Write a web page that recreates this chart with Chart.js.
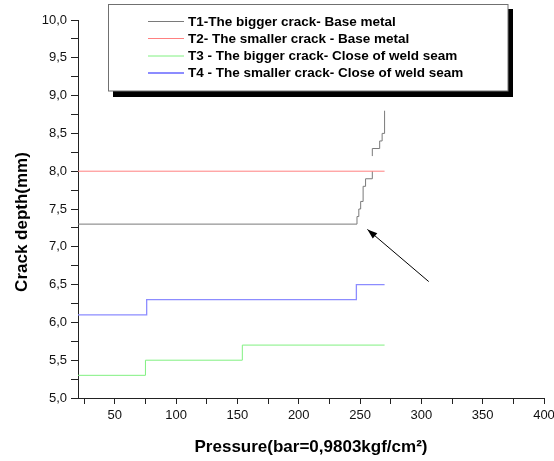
<!DOCTYPE html>
<html>
<head>
<meta charset="utf-8">
<script src="https://cdn.jsdelivr.net/npm/chart.js@4/dist/chart.umd.min.js"></script>
<style>
  html, body { margin: 0; padding: 0; background: #fff; }
  #wrap { width: 554px; height: 461px; }
</style>
</head>
<body>
<div id="wrap"><canvas id="crackChart" width="554" height="461"></canvas></div>
<script>
// Series data (pressure in bar, crack depth in mm)
const t1Pressure = [20, 247.5, 249, 250.5, 252.5, 254.5, 260, 260, 260, 260, 266, 268, 270];
const t1Depth    = [7.3, 7.4, 7.5, 7.6, 7.8, 7.9, 8.0, null, 8.2, 8.3, 8.4, 8.5, 8.8];
const t2Pressure = [20, 270];
const t2Depth    = [8.0, 8.0];
const t3Pressure = [20, 75, 154, 270];
const t3Depth    = [5.3, 5.5, 5.7, 5.7];
const t4Pressure = [20, 76, 247, 270];
const t4Depth    = [6.1, 6.3, 6.5, 6.5];

// Arrow pointing at T1 (tip first, then tail)
const arrowPressure = [256, 306];
const arrowDepth    = [7.23, 6.54];

const seriesLabels = [
    'T1-The bigger crack- Base metal',
    'T2- The smaller crack - Base metal',
    'T3 - The bigger crack- Close of weld seam',
    'T4 - The smaller crack- Close of weld seam'
];
const seriesColors = ['#7a7a7a', '#ff8080', '#80f080', '#8c8cff'];

const xTitle = 'Pressure(bar=0,9803kgf/cm²)';
const yTitle = 'Crack depth(mm)';

const toPoints = (xs, ys) => xs.map((x, i) => ({ x: x, y: ys[i] }));

const FONT = '"Liberation Sans", Arial, sans-serif';

// legend box, axis titles and arrow head
const decorations = {
    id: 'decorations',
    afterDraw(chart) {
        const ctx = chart.ctx;
        const xs = chart.scales.x, ys = chart.scales.y;
        ctx.save();

        // arrow head
        const tipX = xs.getPixelForValue(arrowPressure[0]);
        const tipY = ys.getPixelForValue(arrowDepth[0]);
        const tailX = xs.getPixelForValue(arrowPressure[1]);
        const tailY = ys.getPixelForValue(arrowDepth[1]);
        const ang = Math.atan2(tipY - tailY, tipX - tailX);
        ctx.fillStyle = '#000';
        ctx.beginPath();
        ctx.moveTo(tipX, tipY);
        ctx.lineTo(tipX - 10 * Math.cos(ang) + 3.5 * Math.sin(ang), tipY - 10 * Math.sin(ang) - 3.5 * Math.cos(ang));
        ctx.lineTo(tipX - 10 * Math.cos(ang) - 3.5 * Math.sin(ang), tipY - 10 * Math.sin(ang) + 3.5 * Math.cos(ang));
        ctx.closePath();
        ctx.fill();

        // legend with drop shadow
        ctx.fillStyle = '#000';
        ctx.fillRect(113, 9, 400, 88);
        ctx.fillStyle = '#fff';
        ctx.fillRect(108.5, 4.5, 399.5, 86.5);
        ctx.strokeStyle = '#707070';
        ctx.lineWidth = 1;
        ctx.strokeRect(108.5, 4.5, 399.5, 86.5);

        ctx.font = 'bold 13.5px ' + FONT;
        ctx.textBaseline = 'middle';
        ctx.textAlign = 'left';
        const rowY = [21, 38, 55.5, 72.5];
        seriesLabels.forEach((lbl, i) => {
            ctx.strokeStyle = seriesColors[i];
            ctx.lineWidth = i === 3 ? 2 : 1;
            ctx.beginPath();
            ctx.moveTo(148, rowY[i] + 0.5);
            ctx.lineTo(184, rowY[i] + 0.5);
            ctx.stroke();
            ctx.fillStyle = '#000';
            ctx.fillText(lbl, 188, rowY[i] + 1);
        });

        // axis titles
        ctx.font = 'bold 17px ' + FONT;
        ctx.fillStyle = '#000';
        ctx.textAlign = 'center';
        ctx.fillText(xTitle, 311, 447);
        ctx.translate(22, 222);
        ctx.rotate(-Math.PI / 2);
        ctx.fillText(yTitle, 0, 0);

        ctx.restore();
    }
};

const stepLine = (data, color, width) => ({
    data: data,
    borderColor: color,
    borderWidth: width,
    stepped: true,
    pointRadius: 0,
    fill: false,
    spanGaps: false
});

new Chart(document.getElementById('crackChart').getContext('2d'), {
    type: 'line',
    data: {
        datasets: [
            stepLine(toPoints(t3Pressure, t3Depth), seriesColors[2], 1),
            stepLine(toPoints(t4Pressure, t4Depth), seriesColors[3], 1.3),
            stepLine(toPoints(t2Pressure, t2Depth), seriesColors[1], 1),
            stepLine(toPoints(t1Pressure, t1Depth), seriesColors[0], 1),
            {
                data: toPoints(arrowPressure, arrowDepth),
                borderColor: '#000',
                borderWidth: 1,
                pointRadius: 0,
                fill: false
            }
        ]
    },
    options: {
        responsive: false,
        animation: false,
        layout: { padding: { top: 20, right: 0, left: 0, bottom: 0 } },
        plugins: { legend: { display: false }, tooltip: { enabled: false } },
        scales: {
            x: {
                type: 'linear',
                position: 'bottom',
                min: 20,
                max: 400,
                afterFit: (s) => { s.height = 63; s.paddingRight = 10; s.paddingLeft = 0; },
                border: { display: true, color: '#222', width: 1 },
                grid: { drawOnChartArea: false, drawTicks: true, tickLength: 6, tickColor: '#222' },
                ticks: {
                    stepSize: 25,
                    includeBounds: false,
                    autoSkip: false,
                    maxRotation: 0,
                    padding: 4,
                    color: '#111',
                    font: { family: FONT, size: 13 },
                    callback: (v) => (v % 50 === 0 ? String(v) : '')
                }
            },
            y: {
                type: 'linear',
                position: 'left',
                min: 5,
                max: 10,
                afterFit: (s) => { s.width = 78; },
                border: { display: true, color: '#222', width: 1 },
                grid: { drawOnChartArea: false, drawTicks: true, tickLength: 7, tickColor: '#222' },
                ticks: {
                    stepSize: 0.25,
                    autoSkip: false,
                    padding: 4,
                    color: '#111',
                    font: { family: FONT, size: 13 },
                    callback: (v) => {
                        const r = Math.round(v * 4);
                        return r % 2 === 0 ? (r / 4).toFixed(1).replace('.', ',') : '';
                    }
                }
            }
        }
    },
    plugins: [decorations]
});
</script>
</body>
</html>
